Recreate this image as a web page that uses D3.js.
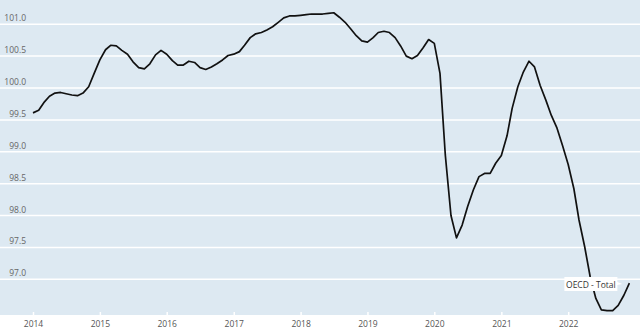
<!DOCTYPE html>
<html>
<head>
<meta charset="utf-8">
<script src="https://cdn.jsdelivr.net/npm/d3@7"></script>
<style>
  body { margin: 0; background: #fff; }
  text { font-family: "Open Sans", "Noto Sans", sans-serif; }
</style>
</head>
<body>
<script>
const width = 640, height = 329

// monthly index values, Jan 2014 .. Dec 2022
const v2014 = [99.61, 99.65, 99.77, 99.87, 99.92, 99.93, 99.91, 99.89, 99.88, 99.92, 100.02, 100.23]
const v2015 = [100.44, 100.60, 100.67, 100.66, 100.59, 100.53, 100.41, 100.32, 100.30, 100.38, 100.52, 100.59]
const v2016 = [100.53, 100.43, 100.36, 100.36, 100.42, 100.40, 100.32, 100.29, 100.33, 100.38, 100.44, 100.51]
const v2017 = [100.53, 100.57, 100.67, 100.79, 100.85, 100.87, 100.91, 100.96, 101.03, 101.10, 101.13, 101.13]
const v2018 = [101.14, 101.15, 101.16, 101.16, 101.16, 101.17, 101.18, 101.11, 101.03, 100.93, 100.82, 100.74]
const v2019 = [100.72, 100.79, 100.87, 100.89, 100.87, 100.79, 100.66, 100.50, 100.46, 100.51, 100.63, 100.76]
const v2020 = [100.70, 100.23, 98.95, 98.00, 97.65, 97.85, 98.14, 98.40, 98.61, 98.66, 98.66, 98.82]
const v2021 = [98.94, 99.25, 99.68, 100.02, 100.25, 100.42, 100.33, 100.04, 99.81, 99.57, 99.37, 99.10]
const v2022 = [98.80, 98.42, 97.93, 97.51, 97.04, 96.70, 96.52, 96.51, 96.51, 96.59, 96.75, 96.94]

const years = [2014, 2015, 2016, 2017, 2018, 2019, 2020, 2021, 2022]
const yTicks = [97.0, 97.5, 98.0, 98.5, 99.0, 99.5, 100.0, 100.5, 101.0]
const seriesName = "OECD - Total"

const allValues = [v2014, v2015, v2016, v2017, v2018, v2019, v2020, v2021, v2022]
const data = []
allValues.forEach(function(arr, yi){
  arr.forEach(function(v, m){
    data.push({ date: new Date(years[yi], m, 1), value: v })
  })
})

const plotBottom = 315

const x = d3.scaleTime()
    .domain([new Date(2014, 0, 1), new Date(2022, 0, 1)])
    .range([33, 568.2])

const y = d3.scaleLinear()
    .domain([96.44, 101.38])
    .range([plotBottom, 0])

const svg = d3.select("body").append("svg")
    .attr("width", width)
    .attr("height", height)

svg.append("rect")
    .attr("x", 0)
    .attr("y", 0)
    .attr("width", width)
    .attr("height", plotBottom)
    .style("fill", "#dde9f2")

// horizontal gridlines
svg.selectAll(".grid")
    .data(yTicks)
    .enter()
    .append("line")
      .attr("class", "grid")
      .attr("x1", 0)
      .attr("x2", width)
      .attr("y1", function(d){ return y(d) })
      .attr("y2", function(d){ return y(d) })
      .style("stroke", "#fff")
      .style("stroke-width", 1.5)

svg.selectAll(".ylabel")
    .data(yTicks)
    .enter()
    .append("text")
      .attr("class", "ylabel")
      .attr("text-anchor", "end")
      .attr("x", 26)
      .attr("y", function(d){ return y(d) - 3 })
      .style("font-size", "8.5px")
      .style("fill", "#666")
      .text(function(d){ return d3.format(".1f")(d) })

// x axis
const xAxis = svg.append("g")
    .attr("transform", "translate(0," + plotBottom + ")")
    .call(d3.axisBottom(x)
      .tickValues(years.map(function(yr){ return new Date(yr, 0, 1) }))
      .tickFormat(d3.timeFormat("%Y"))
      .tickSizeInner(-3)
      .tickSizeOuter(0)
      .tickPadding(6))

xAxis.select(".domain").remove()
xAxis.selectAll(".tick line")
    .style("stroke", "#fff")
    .style("stroke-width", 1.5)
xAxis.selectAll(".tick text")
    .style("font-size", "8.5px")
    .style("fill", "#555")
    .style("font-family", "\"Open Sans\", \"Noto Sans\", sans-serif")

const line = d3.line()
    .x(function(d){ return x(d.date) })
    .y(function(d){ return y(d.value) })

svg.append("path")
    .datum(data)
    .attr("d", line)
    .style("fill", "none")
    .style("stroke", "#111")
    .style("stroke-width", 1.7)
    .style("stroke-linejoin", "round")

// end label
const last = data[data.length - 1]
const lx = x(last.date) - 7, ly = y(last.value)
const label = svg.append("g")
    .attr("transform", "translate(" + lx + "," + ly + ")")

label.append("path")
    .attr("d", "M-58,-6 L-5,-6 L-5,-1 L0,1 L-5,2 L-5,8 L-58,8 Z")
    .style("fill", "#fff")

label.append("text")
    .attr("x", -31.5)
    .attr("y", 4.5)
    .attr("text-anchor", "middle")
    .style("font-size", "8.5px")
    .style("fill", "#333")
    .text(seriesName)
</script>
</body>
</html>
